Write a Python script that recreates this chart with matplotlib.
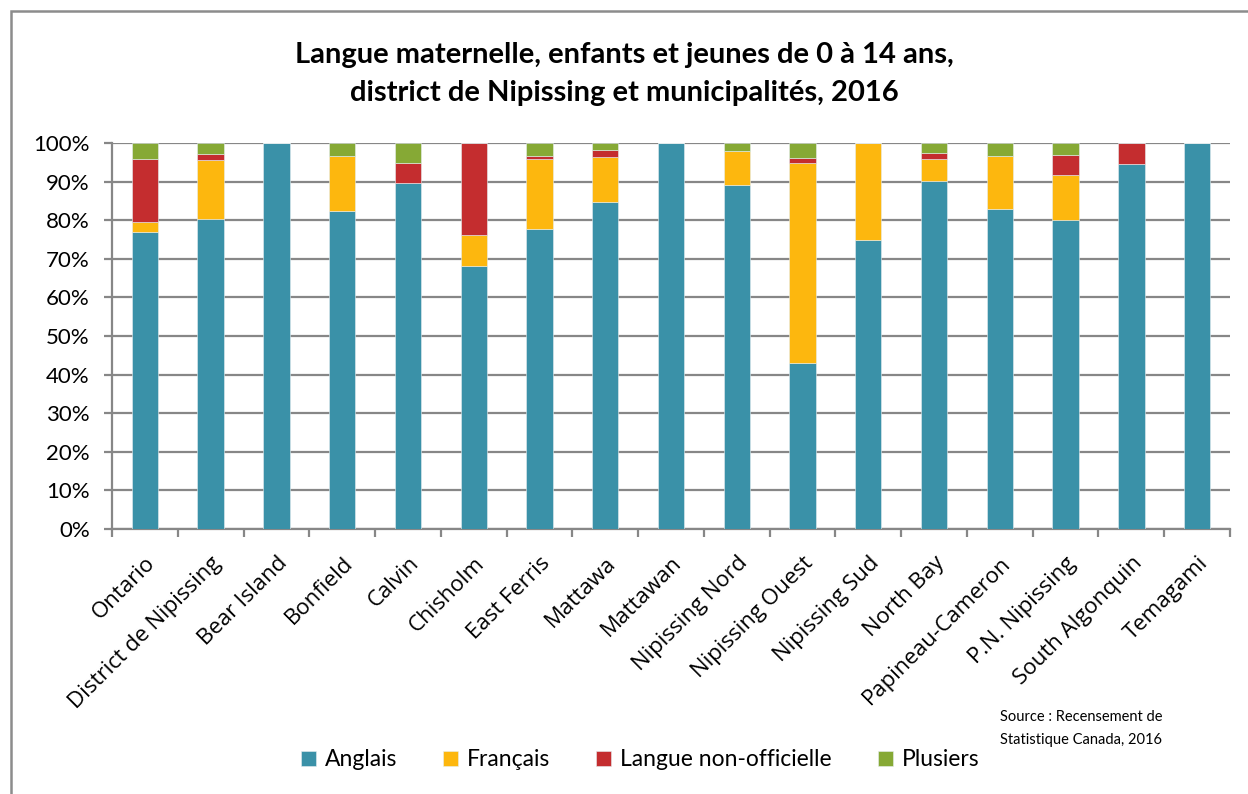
import numpy as np
import matplotlib.pyplot as plt
from matplotlib.patches import Rectangle

# data (percent)
categories = ['Ontario', 'District de Nipissing', 'Bear Island', 'Bonfield', 'Calvin',
              'Chisholm', 'East Ferris', 'Mattawa', 'Mattawan', 'Nipissing Nord',
              'Nipissing Ouest', 'Nipissing Sud', 'North Bay', 'Papineau-Cameron',
              'P.N. Nipissing', 'South Algonquin', 'Temagami']
anglais = [77.0, 80.3, 100, 82.5, 89.6, 68.1, 77.6, 84.8, 100, 89.2, 43.0, 75.0, 90.2, 82.8, 80.1, 94.6, 100]
francais = [2.6, 15.2, 0, 14.1, 0, 8.1, 18.3, 11.5, 0, 8.7, 51.8, 25.0, 5.7, 13.9, 11.7, 0, 0]
non_officielle = [16.3, 1.7, 0, 0, 5.3, 23.8, 0.8, 1.9, 0, 0, 1.4, 0, 1.6, 0, 5.0, 5.4, 0]
plusieurs = [4.1, 2.8, 0, 3.4, 5.1, 0, 3.3, 1.8, 0, 2.1, 3.8, 0, 2.5, 3.3, 3.2, 0, 0]

series = [('Anglais', anglais, '#3A91A8'),
          ('Français', francais, '#FDB70E'),
          ('Langue non-officielle', non_officielle, '#C42D2F'),
          ('Plusiers', plusieurs, '#86A935')]

grey = '#878787'
plt.rcParams['font.family'] = ['Lato', 'DejaVu Sans']

fig = plt.figure(figsize=(12.48, 7.94), dpi=100)
# chart border (only top/left visible in reference)
fig.patches.append(Rectangle((11 / 1248, -0.1), 1.2, (794 - 11) / 794 + 0.1,
                             transform=fig.transFigure, fill=False,
                             edgecolor='#8c8c8c', linewidth=1.8))

ax = fig.add_axes([112 / 1248, (794 - 529) / 794, 1118 / 1248, 386 / 794])
x = np.arange(len(categories))
bottom = np.zeros(len(categories))
for name, vals, col in series:
    vals = np.array(vals, dtype=float)
    ax.bar(x, vals, 0.4, bottom=bottom, color=col, label=name,
           edgecolor='#e6eef0', linewidth=0.4, zorder=3)
    bottom += vals

ax.set_xlim(-0.5, len(categories) - 0.5)
ax.set_ylim(0, 100)
ax.set_yticks(np.arange(0, 101, 10))
ax.set_yticklabels([f'{v}%' for v in range(0, 101, 10)], fontsize=16)
ax.yaxis.grid(True, color=grey, linewidth=1.6, zorder=0)
ax.tick_params(axis='y', length=6, width=1.6, color=grey, pad=10)

ax.set_xticks(x)
ax.set_xticklabels(categories, rotation=45, ha='right', rotation_mode='anchor',
                   fontsize=16, family='Open Sans')
ax.tick_params(axis='x', which='major', length=0, pad=17)
ax.set_xticks(np.arange(-0.5, len(categories), 1), minor=True)
ax.tick_params(axis='x', which='minor', length=6, width=1.6, color=grey)

for s in ['top', 'right']:
    ax.spines[s].set_visible(False)
for s in ['left', 'bottom']:
    ax.spines[s].set_color(grey)
    ax.spines[s].set_linewidth(1.6)

fig.text(0.5, 1 - 55 / 794, 'Langue maternelle, enfants et jeunes de 0 à 14 ans,',
         ha='center', va='center', fontsize=21, fontweight='bold')
fig.text(0.5, 1 - 93 / 794, 'district de Nipissing et municipalités, 2016',
         ha='center', va='center', fontsize=21, fontweight='bold')

fig.text(1000 / 1248, 1 - 717 / 794, 'Source : Recensement de', fontsize=10.5, va='center')
fig.text(1000 / 1248, 1 - 740 / 794, 'Statistique Canada, 2016', fontsize=10.5, va='center')

fig.legend(loc='center', bbox_to_anchor=(640 / 1248, 1 - 760 / 794), ncol=4,
           frameon=False, fontsize=16.5, handlelength=0.65, handleheight=0.65,
           handletextpad=0.4, columnspacing=2.0)

fig.savefig('out.png', dpi=100)
